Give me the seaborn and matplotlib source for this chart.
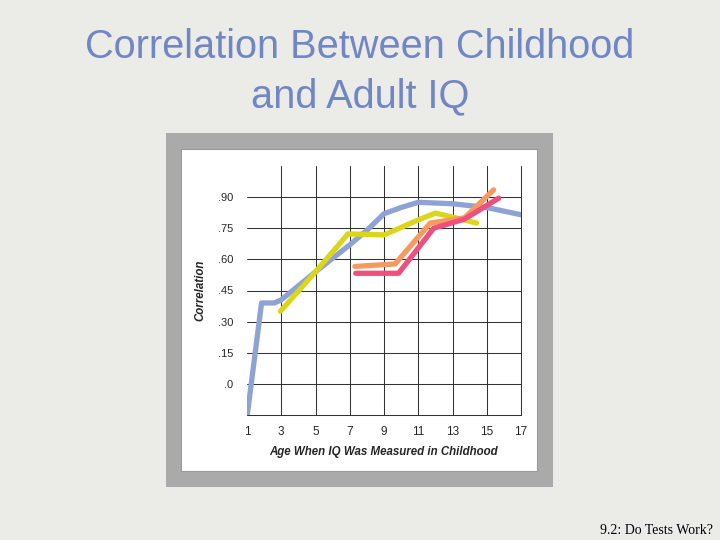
import numpy as np
import pandas as pd
import matplotlib
matplotlib.use("Agg")
import matplotlib.pyplot as plt
from matplotlib.patches import Rectangle
import seaborn as sns

# correlation of childhood IQ with adult IQ
blue_age = [1.0, 1.85, 2.6, 3.0, 5.0, 7.0, 8.0, 9.0, 10.0, 11.0, 13.0, 15.0, 17.0]
blue_corr = [-0.16, 0.39, 0.39, 0.405, 0.54, 0.67, 0.74, 0.82, 0.85, 0.875, 0.868, 0.85, 0.815]

yellow_age = [2.95, 5.0, 6.9, 9.0, 11.0, 12.0, 13.0, 14.4]
yellow_corr = [0.35, 0.54, 0.723, 0.718, 0.79, 0.823, 0.804, 0.775]

orange_age = [7.3, 9.65, 11.7, 13.7, 15.4]
orange_corr = [0.566, 0.578, 0.775, 0.80, 0.935]

pink_age = [7.35, 9.85, 11.9, 13.7, 15.7]
pink_corr = [0.533, 0.533, 0.75, 0.794, 0.895]

x_ticks = [1, 3, 5, 7, 9, 11, 13, 15, 17]
y_ticks = [0.0, 0.15, 0.30, 0.45, 0.60, 0.75, 0.90]
y_labels = [".0", ".15", ".30", ".45", ".60", ".75", ".90"]

series = [
    (blue_age, blue_corr, "#8fa2d4"),
    (yellow_age, yellow_corr, "#d9d61c"),
    (orange_age, orange_corr, "#f89a60"),
    (pink_age, pink_corr, "#ef4f7d"),
]

sns.set_style("white")
plt.rcParams["font.family"] = ["Liberation Sans", "DejaVu Sans"]

fig = plt.figure(figsize=(7.2, 5.4), dpi=100)
fig.patch.set_facecolor("#ebebe7")

# grey picture frame and white panel behind the chart
fig.patches.append(Rectangle((166 / 720, 1 - 487 / 540), 387 / 720, 354 / 540,
                             transform=fig.transFigure, facecolor="#aaaaaa",
                             edgecolor="none", zorder=-2))
fig.patches.append(Rectangle((181 / 720, 1 - 471 / 540), 356 / 720, 322 / 540,
                             transform=fig.transFigure, facecolor="white",
                             edgecolor="#9a9a9a", linewidth=0.8, zorder=-1))

ax = fig.add_axes([247 / 720, 1 - 415 / 540, 274 / 720, 249 / 540])
ax.set_facecolor("none")

for age, corr, color in series:
    df = pd.DataFrame({"age": age, "corr": corr})
    sns.lineplot(data=df, x="age", y="corr", ax=ax, color=color, linewidth=3.8,
                 sort=False, estimator=None, zorder=3)

ax.set_xlim(1, 17)
ax.set_ylim(-0.15, 1.05)

# grid drawn by hand like the original chart
for yv in [-0.15] + y_ticks:
    ax.axhline(yv, color="#333333", linewidth=0.75, zorder=1, clip_on=False)
for xv in x_ticks[1:]:
    ax.axvline(xv, color="#333333", linewidth=0.75, zorder=1, clip_on=False)

for side in ["left", "right", "top", "bottom"]:
    ax.spines[side].set_visible(False)

ax.set_xticks(x_ticks)
ax.set_xticklabels([str(v) for v in x_ticks], fontsize=8.5)
ax.set_yticks(y_ticks)
ax.set_yticklabels(y_labels, fontsize=8)
ax.tick_params(axis="x", length=0, pad=8)
ax.tick_params(axis="y", length=0, pad=10)

ax.set_xlabel("Age When IQ Was Measured in Childhood", fontsize=8.3,
              fontweight="bold", fontstyle="italic", labelpad=6)
ax.set_ylabel("Correlation", fontsize=8.3, fontweight="bold",
              fontstyle="italic", labelpad=8)

fig.text(0.5, 1 - 47 / 540, "Correlation Between Childhood", ha="center",
         va="center", fontsize=28.6, color="#7186c5")
fig.text(0.5, 1 - 96 / 540, "and Adult IQ", ha="center", va="center",
         fontsize=28.6, color="#7186c5")
fig.text(713 / 720, 1 - 530 / 540, "9.2: Do Tests Work?", ha="right",
         va="center", fontsize=10, family=["Liberation Serif", "DejaVu Serif"],
         color="black")

fig.savefig("out.png", dpi=100, facecolor=fig.get_facecolor())
